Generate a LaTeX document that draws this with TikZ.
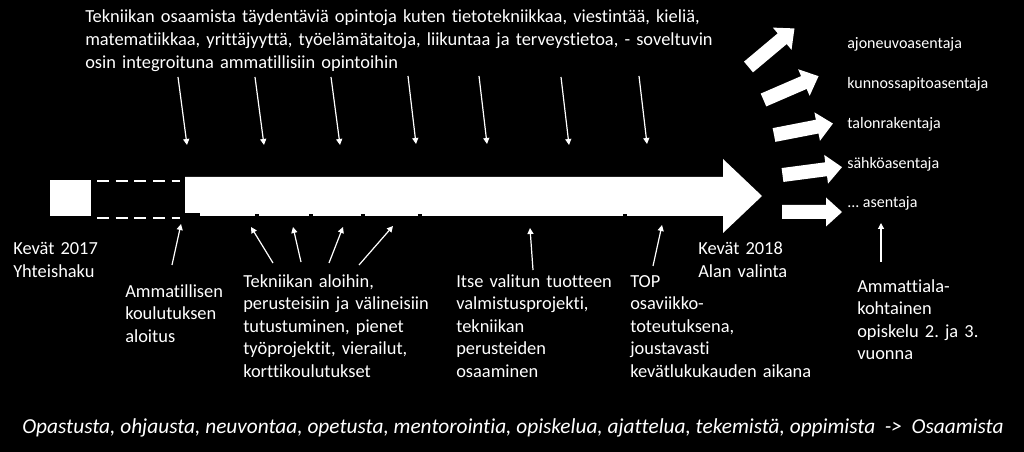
\documentclass[tikz,border=0pt]{standalone}
\usepackage{fontspec}
\setmainfont{Carlito}[Ligatures={NoCommon}]
\usetikzlibrary{arrows.meta}
\newcommand\blkarrow[3]{%
  \fill[white,shift={(#1,#2)},rotate=#3] (0,-7) -- (44,-7) -- (44,-14.5) -- (60,0) -- (44,14.5) -- (44,7) -- (0,7) -- cycle;}
\frenchspacing
\begin{document}
\begin{tikzpicture}[x=0.75pt,y=-0.75pt,
  lbl/.style={text=white, inner sep=0pt, anchor=base west, align=left, text width=300pt, font=\fontsize{13.8}{16.9}\selectfont},
  small/.style={text=white, inner sep=0pt, anchor=base west, font=\fontsize{12}{14}\selectfont},
  pointer/.style={draw=white, line width=0.9pt, -{Triangle[length=4.5pt,width=4.5pt]}},
  notch/.style={fill=black},
  dashline/.style={draw=white, line width=1.5pt, dash pattern=on 9pt off 5pt}]
\useasboundingbox (0,0) rectangle (1024,452);
\fill[black] (0,0) rectangle (1024,452);
% timeline
\fill[white] (50,180) rectangle (91,216);
\draw[dashline] (97,181) -- (180,181);
\draw[dashline] (97,218) -- (180,218);
\fill[white] (185,177) -- (723,177) -- (723,159) -- (762,196) -- (723,233) -- (723,216) -- (185,216) -- cycle;
\fill[notch] (185,213.5) rectangle (200,216.5);
\foreach \nx in {257,311,363,420,625} {\fill[notch] (\nx-2,213.8) rectangle (\nx+2,216.5);}
% branch arrows
\blkarrow{748.5}{67}{40}
\blkarrow{763.5}{100}{23.4}
\blkarrow{774}{135}{11}
\blkarrow{782.5}{175}{7.5}
\blkarrow{782}{212}{0}
% texts
\node[lbl, text width=520pt] (toptext) at (85,23) {Tekniikan osaamista täydentäviä opintoja kuten tietotekniikkaa, viestintää, kieliä,\\matematiikkaa, yrittäjyyttä, työelämätaitoja, liikuntaa ja terveystietoa, - soveltuvin\\osin integroituna ammatillisiin opintoihin};
\node[lbl] (kv17) at (13,255) {Kevät 2017\\Yhteishaku};
\node[lbl] (ammat) at (125,297) {Ammatillisen\\koulutuksen\\aloitus};
\node[lbl] (tekn) at (243,287) {Tekniikan aloihin,\\perusteisiin ja välineisiin\\tutustuminen, pienet\\työprojektit, vierailut,\\korttikoulutukset};
\node[lbl] (itse) at (456,287) {Itse valitun tuotteen\\valmistusprojekti,\\tekniikan\\perusteiden\\osaaminen};
\node[lbl] (topn) at (630,287) {TOP\\osaviikko-\\toteutuksena,\\joustavasti\\kevätlukukauden aikana};
\node[lbl] (kv18) at (698,255) {Kevät 2018\\Alan valinta};
\node[lbl] (ammala) at (857,292) {Ammattiala-\\kohtainen\\opiskelu 2. ja 3.\\vuonna};
\node[small] (r1) at (847,49) {ajoneuvoasentaja};
\node[small] (r2) at (847,89) {kunnossapitoasentaja};
\node[small] (r3) at (847,129) {talonrakentaja};
\node[small] (r4) at (847,169) {sähköasentaja};
\node[small] (r5) at (847,208) {... asentaja};
\node[text=white, inner sep=0pt, anchor=base west, font=\fontsize{16}{19}\selectfont\itshape] (bottom) at (22,433) {Opastusta, ohjausta, neuvontaa, opetusta, mentorointia, opiskelua, ajattelua, tekemistä, oppimista ~->~ Osaamista};
% pointers down
\foreach \i/\ax/\ay/\bx/\by in {1/178/77/187/145, 2/255/77/264/145, 3/331/77/340/145, 4/408/76/416/144, 5/479/76/487/144, 6/561/77/569/145, 7/639/76/647/144} {
  \coordinate (d\i s) at (\ax,\ay);
  \coordinate (d\i e) at (\bx,\by);
  \draw[pointer] (d\i s) -- (d\i e);
}
% pointers up
\foreach \i/\ax/\ay/\bx/\by in {1/172/265/181/224, 2/273/263/251/227, 3/301/262/293/227, 4/329/263/343/227, 5/359/265/393/226, 6/533/270/530/228, 7/653/266/662/225, 8/881/262/881/223} {
  \coordinate (u\i s) at (\ax,\ay);
  \coordinate (u\i e) at (\bx,\by);
  \draw[pointer] (u\i s) -- (u\i e);
}
\end{tikzpicture}
\end{document}
